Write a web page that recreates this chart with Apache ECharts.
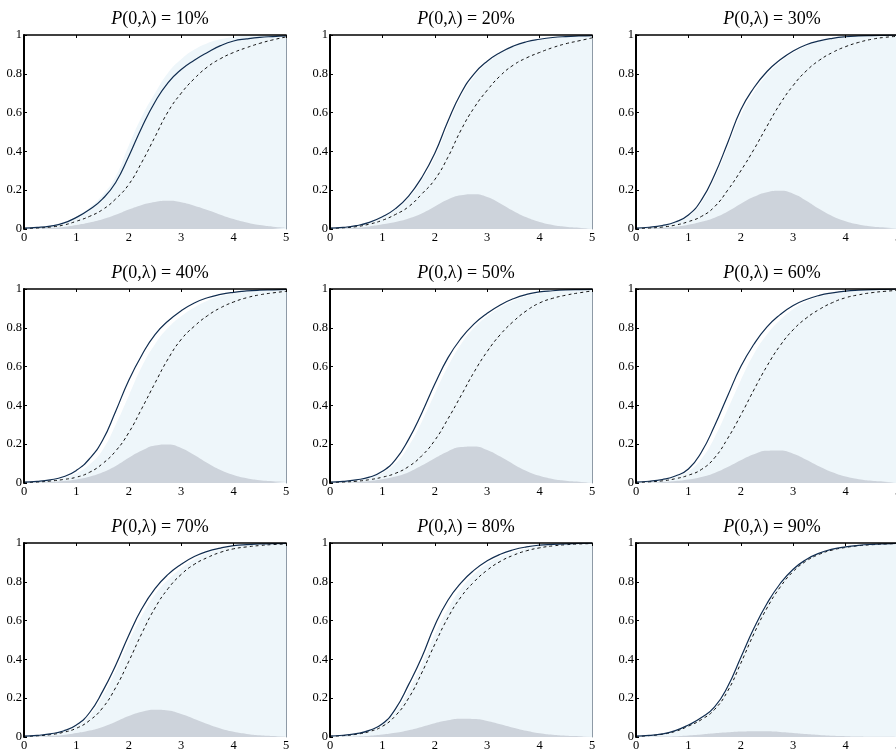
<!DOCTYPE html>
<html>
<head>
<meta charset="utf-8">
<script src="https://cdn.jsdelivr.net/npm/echarts@6/dist/echarts.min.js"></script>
<style>
html,body{margin:0;padding:0;background:#fff;}
#chart{width:896px;height:752px;}
</style>
</head>
<body>
<div id="chart"></div>
<script>
// x grid shared by all panels
const xValues = [0,0.25,0.5,0.75,1,1.25,1.5,1.75,2,2.25,2.5,2.75,3,3.25,3.5,3.75,4,4.25,4.5,4.75,5];
const xTicks = [0,1,2,3,4,5];
const yTicks = [0,0.2,0.4,0.6,0.8,1];
const panelLabels = ['10%','20%','30%','40%','50%','60%','70%','80%','90%'];

// Panel 1: P = 10%
const solid10  = [0.005,0.008,0.015,0.03,0.06,0.10,0.155,0.24,0.375,0.525,0.655,0.755,0.822,0.87,0.91,0.945,0.969,0.98,0.988,0.992,0.995];
const dashed10 = [0.003,0.005,0.01,0.02,0.04,0.065,0.10,0.155,0.23,0.345,0.475,0.605,0.70,0.775,0.835,0.878,0.91,0.935,0.957,0.975,0.99];
const fill10   = [0.005,0.008,0.016,0.032,0.065,0.11,0.175,0.27,0.43,0.58,0.70,0.805,0.875,0.925,0.958,0.978,0.99,0.996,0.999,1,1];
const gray10   = [0,0.002,0.005,0.01,0.02,0.033,0.05,0.073,0.1,0.124,0.139,0.145,0.138,0.12,0.098,0.074,0.051,0.033,0.02,0.012,0.007];

// Panel 2: P = 20%
const solid20  = [0.005,0.008,0.017,0.034,0.063,0.105,0.17,0.265,0.39,0.555,0.70,0.80,0.865,0.91,0.943,0.965,0.978,0.987,0.992,0.995,0.997];
const dashed20 = [0.003,0.006,0.012,0.025,0.045,0.075,0.115,0.18,0.255,0.37,0.51,0.625,0.715,0.79,0.845,0.882,0.91,0.935,0.955,0.97,0.985];
const fill20   = [0.004,0.007,0.015,0.03,0.058,0.098,0.16,0.25,0.37,0.53,0.68,0.785,0.855,0.905,0.94,0.962,0.976,0.986,0.991,0.995,0.997];
const gray20   = [0,0.002,0.006,0.013,0.024,0.036,0.054,0.08,0.116,0.152,0.174,0.179,0.165,0.132,0.093,0.06,0.036,0.021,0.012,0.007,0.004];

// Panel 3: P = 30%
const solid30  = [0.005,0.009,0.018,0.036,0.072,0.15,0.28,0.445,0.615,0.728,0.812,0.872,0.918,0.95,0.97,0.983,0.991,0.995,0.997,0.998,0.999];
const dashed30 = [0.003,0.005,0.01,0.02,0.038,0.065,0.115,0.2,0.3,0.41,0.53,0.645,0.74,0.815,0.87,0.91,0.94,0.962,0.978,0.988,0.993];
const fill30   = [0.004,0.008,0.016,0.032,0.065,0.135,0.26,0.42,0.585,0.705,0.795,0.86,0.908,0.943,0.966,0.98,0.989,0.994,0.997,0.998,0.999];
const gray30   = [0,0.002,0.006,0.012,0.022,0.037,0.058,0.09,0.13,0.166,0.19,0.197,0.182,0.146,0.103,0.066,0.04,0.023,0.013,0.008,0.004];

// Panel 4: P = 40%
const solid40  = [0.005,0.008,0.016,0.032,0.065,0.125,0.22,0.37,0.53,0.66,0.765,0.835,0.888,0.928,0.955,0.972,0.983,0.99,0.994,0.996,0.998];
const dashed40 = [0.003,0.005,0.01,0.018,0.03,0.055,0.1,0.165,0.26,0.385,0.515,0.64,0.74,0.808,0.862,0.903,0.933,0.955,0.97,0.98,0.988];
const fill40   = [0.004,0.007,0.013,0.026,0.05,0.095,0.17,0.3,0.45,0.60,0.715,0.80,0.86,0.905,0.94,0.962,0.977,0.986,0.991,0.994,0.996];
const gray40   = [0,0.002,0.005,0.01,0.018,0.032,0.055,0.088,0.13,0.167,0.193,0.198,0.18,0.144,0.103,0.067,0.041,0.024,0.014,0.009,0.006];

// Panel 5: P = 50%
const solid50  = [0.005,0.008,0.016,0.03,0.06,0.12,0.225,0.36,0.51,0.645,0.745,0.82,0.875,0.918,0.95,0.972,0.985,0.991,0.995,0.997,0.998];
const dashed50 = [0.003,0.005,0.009,0.017,0.03,0.05,0.085,0.14,0.22,0.33,0.45,0.572,0.678,0.765,0.833,0.888,0.928,0.952,0.968,0.98,0.99];
const fill50   = [0.004,0.007,0.014,0.027,0.052,0.10,0.19,0.315,0.46,0.60,0.715,0.80,0.86,0.905,0.94,0.963,0.978,0.987,0.992,0.995,0.997];
const gray50   = [0,0.002,0.005,0.01,0.019,0.033,0.056,0.09,0.128,0.163,0.185,0.188,0.17,0.136,0.097,0.062,0.037,0.021,0.012,0.007,0.004];

// Panel 6: P = 60%
const solid60  = [0.005,0.009,0.018,0.036,0.072,0.16,0.295,0.45,0.60,0.715,0.805,0.868,0.915,0.946,0.967,0.98,0.989,0.994,0.997,0.998,0.999];
const dashed60 = [0.003,0.006,0.011,0.022,0.04,0.07,0.13,0.23,0.35,0.48,0.603,0.708,0.79,0.85,0.895,0.93,0.955,0.97,0.981,0.988,0.993];
const fill60   = [0.004,0.008,0.015,0.03,0.06,0.125,0.235,0.38,0.53,0.665,0.765,0.84,0.895,0.935,0.96,0.976,0.986,0.992,0.995,0.997,0.998];
const gray60   = [0,0.002,0.005,0.01,0.018,0.031,0.052,0.082,0.117,0.148,0.166,0.167,0.151,0.12,0.085,0.055,0.033,0.019,0.011,0.007,0.004];

// Panel 7: P = 70%
const solid70  = [0.005,0.008,0.016,0.031,0.062,0.125,0.235,0.37,0.525,0.662,0.765,0.838,0.89,0.93,0.957,0.974,0.986,0.992,0.995,0.997,0.998];
const dashed70 = [0.003,0.006,0.012,0.024,0.045,0.085,0.15,0.255,0.39,0.535,0.665,0.765,0.838,0.89,0.925,0.952,0.97,0.98,0.987,0.992,0.995];
const fill70   = [0.004,0.007,0.014,0.028,0.055,0.11,0.21,0.34,0.49,0.625,0.735,0.81,0.87,0.915,0.948,0.968,0.98,0.988,0.993,0.996,0.997];
const gray70   = [0,0.002,0.005,0.01,0.02,0.033,0.052,0.079,0.108,0.13,0.14,0.136,0.118,0.093,0.067,0.044,0.027,0.016,0.009,0.005,0.003];

// Panel 8: P = 80%
const solid80  = [0.005,0.009,0.017,0.034,0.068,0.145,0.27,0.41,0.575,0.705,0.795,0.86,0.908,0.942,0.965,0.98,0.989,0.993,0.996,0.998,0.999];
const dashed80 = [0.004,0.007,0.014,0.028,0.055,0.11,0.20,0.33,0.478,0.615,0.722,0.80,0.86,0.905,0.937,0.96,0.975,0.985,0.991,0.995,0.997];
const fill80   = [0.004,0.008,0.015,0.031,0.062,0.13,0.24,0.375,0.53,0.66,0.765,0.84,0.893,0.93,0.955,0.972,0.984,0.99,0.994,0.997,0.998];
const gray80   = [0,0.001,0.003,0.007,0.013,0.022,0.035,0.052,0.071,0.086,0.094,0.093,0.083,0.066,0.048,0.032,0.019,0.011,0.006,0.004,0.002];

// Panel 9: P = 90%
const solid90  = [0.004,0.008,0.016,0.033,0.062,0.1,0.155,0.26,0.41,0.56,0.688,0.79,0.865,0.915,0.948,0.968,0.98,0.988,0.993,0.996,0.998];
const dashed90 = [0.003,0.007,0.014,0.029,0.056,0.09,0.142,0.237,0.38,0.532,0.665,0.772,0.853,0.907,0.942,0.964,0.977,0.986,0.991,0.995,0.997];
const fill90   = [0.003,0.007,0.015,0.031,0.059,0.094,0.148,0.248,0.395,0.546,0.676,0.781,0.859,0.911,0.945,0.966,0.979,0.987,0.992,0.995,0.997];
const gray90   = [0,0.001,0.002,0.004,0.008,0.013,0.019,0.024,0.028,0.03,0.029,0.026,0.021,0.015,0.01,0.006,0.004,0.002,0.001,0.001,0];

const panels = [
  {label: panelLabels[0], solid: solid10, dashed: dashed10, fill: fill10, gray: gray10},
  {label: panelLabels[1], solid: solid20, dashed: dashed20, fill: fill20, gray: gray20},
  {label: panelLabels[2], solid: solid30, dashed: dashed30, fill: fill30, gray: gray30},
  {label: panelLabels[3], solid: solid40, dashed: dashed40, fill: fill40, gray: gray40},
  {label: panelLabels[4], solid: solid50, dashed: dashed50, fill: fill50, gray: gray50},
  {label: panelLabels[5], solid: solid60, dashed: dashed60, fill: fill60, gray: gray60},
  {label: panelLabels[6], solid: solid70, dashed: dashed70, fill: fill70, gray: gray70},
  {label: panelLabels[7], solid: solid80, dashed: dashed80, fill: fill80, gray: gray80},
  {label: panelLabels[8], solid: solid90, dashed: dashed90, fill: fill90, gray: gray90}
];

const FONT = '"Liberation Serif", "Times New Roman", serif';
const chart = echarts.init(document.getElementById('chart'), null, {renderer: 'canvas'});

const pairs = arr => arr.map((v, k) => [xValues[k], v]);

const grids = [], xAxes = [], yAxes = [], series = [], titles = [];
panels.forEach((p, i) => {
  const c = i % 3, r = Math.floor(i / 3);
  const left = 24 + 306 * c, top = 35 + 254 * r, w = 262, h = 194;
  grids.push({left: left, top: top, width: w, height: h, containLabel: false, outerBoundsMode: 'none'});
  titles.push({
    text: '{i|P}{n|(0,λ) = ' + p.label + '}',
    left: left + w / 2, top: top - 30, textAlign: 'center',
    textStyle: {
      fontWeight: 'normal',
      rich: {
        i: {fontFamily: FONT, fontStyle: 'italic', fontWeight: 'normal', fontSize: 18, color: '#000'},
        n: {fontFamily: FONT, fontWeight: 'normal', fontSize: 18, color: '#000'}
      }
    }
  });
  // bottom x axis: labels only
  xAxes.push({
    gridIndex: i, type: 'value', min: xTicks[0], max: xTicks[xTicks.length - 1], interval: 1,
    position: 'bottom', z: 10,
    axisLine: {show: false}, axisTick: {show: false}, splitLine: {show: false},
    axisLabel: {fontFamily: FONT, fontSize: 12.5, color: '#000', margin: 2}
  });
  // top x axis: line + inward ticks
  xAxes.push({
    gridIndex: i, type: 'value', min: xTicks[0], max: xTicks[xTicks.length - 1], interval: 1,
    position: 'top', z: 10,
    axisLine: {show: true, onZero: false, lineStyle: {color: '#000', width: 1.5}},
    axisTick: {show: true, inside: true, length: 3, lineStyle: {color: '#000', width: 1}},
    axisLabel: {show: false}, splitLine: {show: false}
  });
  // left y axis
  yAxes.push({
    gridIndex: i, type: 'value', min: yTicks[0], max: yTicks[yTicks.length - 1], interval: 0.2,
    position: 'left', z: 10,
    axisLine: {show: true, onZero: false, lineStyle: {color: '#000', width: 2}},
    axisTick: {show: true, inside: true, length: 3, lineStyle: {color: '#000', width: 1}},
    axisLabel: {fontFamily: FONT, fontSize: 12.5, color: '#000', margin: 2},
    splitLine: {show: false}
  });
  // right border
  yAxes.push({
    gridIndex: i, type: 'value', min: 0, max: 1, position: 'right', z: 10,
    axisLine: {show: true, onZero: false, lineStyle: {color: '#8e9aa6', width: 1}},
    axisTick: {show: false}, axisLabel: {show: false}, splitLine: {show: false}
  });
  const xi = 2 * i + 1, yi = 2 * i;
  series.push({
    type: 'line', xAxisIndex: xi, yAxisIndex: yi, data: pairs(p.fill),
    smooth: true, showSymbol: false, z: 1, silent: true,
    lineStyle: {width: 0, color: '#eef6fa'},
    areaStyle: {color: '#eef6fa', opacity: 1}
  });
  series.push({
    type: 'line', xAxisIndex: xi, yAxisIndex: yi, data: pairs(p.gray),
    smooth: true, showSymbol: false, z: 2, silent: true,
    lineStyle: {width: 0, color: '#cdd3db'},
    areaStyle: {color: '#cdd3db', opacity: 1}
  });
  series.push({
    type: 'line', xAxisIndex: xi, yAxisIndex: yi, data: pairs(p.dashed),
    smooth: true, showSymbol: false, z: 3, silent: true,
    lineStyle: {width: 1, color: '#111', type: [3, 3]}
  });
  series.push({
    type: 'line', xAxisIndex: xi, yAxisIndex: yi, data: pairs(p.solid),
    smooth: true, showSymbol: false, z: 4, silent: true,
    lineStyle: {width: 1.2, color: '#102d50'}
  });
});

chart.setOption({
  animation: false,
  backgroundColor: '#fff',
  title: titles,
  grid: grids,
  xAxis: xAxes,
  yAxis: yAxes,
  series: series
});
</script>
</body>
</html>
